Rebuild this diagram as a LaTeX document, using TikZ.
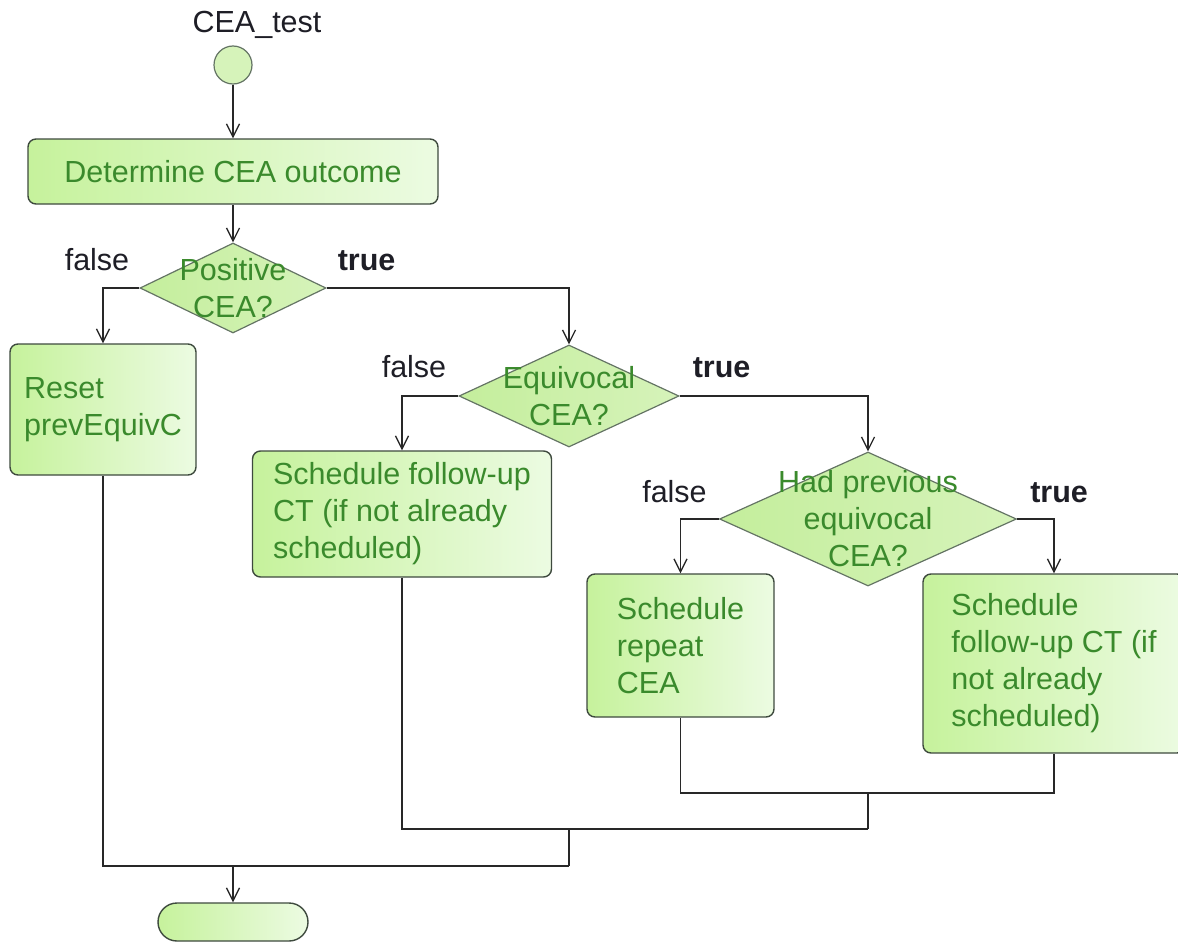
\documentclass[tikz,border=0pt]{standalone}
\usepackage{fontspec}
\setmainfont{Liberation Sans}
\usetikzlibrary{shapes.geometric,arrows.meta}

\definecolor{txtgreen}{RGB}{58,138,44}
\definecolor{fillL}{RGB}{198,242,156}
\definecolor{fillR}{RGB}{236,251,226}
\definecolor{diaL}{RGB}{196,238,156}
\definecolor{diaR}{RGB}{214,243,186}
\definecolor{boxedge}{RGB}{62,74,62}
\definecolor{diaedge}{RGB}{100,116,100}
\definecolor{wire}{RGB}{40,40,40}
\definecolor{lblcol}{RGB}{30,30,38}

\begin{document}
\begin{tikzpicture}[x=1pt,y=-1pt,
  every node/.style={font=\fontsize{30.5}{37}\selectfont},
  action/.style={draw=boxedge, line width=1.4pt, rounded corners=8pt,
    left color=fillL, right color=fillR, text=txtgreen, align=left, inner sep=0pt},
  decision/.style={diamond, draw=diaedge, line width=1.2pt,
    left color=diaL, right color=diaR, inner sep=0pt},
  dtext/.style={text=txtgreen, align=center, inner sep=0pt},
  branch/.style={text=lblcol, inner sep=0pt},
  flow/.style={draw=wire, line width=1.4pt,
    -{Straight Barb[length=13pt,width=13pt,line width=1.3pt]}},
  joinline/.style={draw=wire, line width=1.4pt},
]
\useasboundingbox (0,0) rectangle (1178,942);
\clip (0,0) rectangle (1178,942);

% start
\node[anchor=base, text=lblcol, inner sep=0pt] (title) at (257,33) {CEA\_test};
\node[circle, draw=diaedge, line width=1.2pt, fill=diaR, minimum size=38pt, inner sep=0pt] (start) at (233,65) {};

% actions and decisions
\node[action, minimum width=410pt, minimum height=65pt, align=center] (determine) at (233,171.5) {Determine CEA outcome};

\node[decision, minimum width=186pt, minimum height=90pt] (d1) at (233,288) {};
\node[dtext] (d1t) at (d1) {Positive\\CEA?};

\node[action, minimum width=186pt, minimum height=131pt] (reset) at (103,409.5) {Reset\\prevEquivC};

\node[decision, minimum width=220pt, minimum height=102pt] (d2) at (569,396) {};
\node[dtext] (d2t) at (d2) {Equivocal\\CEA?};

\node[action, minimum width=299pt, minimum height=126pt] (fup1) at (402,514) {Schedule follow-up\\CT (if not already\\scheduled)};

\node[decision, minimum width=297pt, minimum height=134pt] (d3) at (868,519) {};
\node[dtext] (d3t) at (d3) {Had previous\\equivocal\\CEA?};

\node[action, minimum width=187pt, minimum height=143pt] (rep) at (680.5,645.5) {Schedule\\repeat\\CEA};

\node[action, minimum width=262pt, minimum height=179pt] (fup2) at (1054,663.5) {Schedule\\follow-up CT (if\\not already\\scheduled)};

\node[draw=boxedge, line width=1.4pt, rounded corners=19pt, left color=fillL, right color=fillR,
  minimum width=150pt, minimum height=38pt, inner sep=0pt] (stop) at (233,922) {};

% branch labels
\node[branch, anchor=base east] (f1) at ([xshift=-10pt,yshift=18pt]d1.west) {false};
\node[branch, anchor=base west, font=\fontsize{30.5}{37}\selectfont\bfseries] (t1) at ([xshift=11pt,yshift=18pt]d1.east) {true};
\node[branch, anchor=base east] (f2) at ([xshift=-12pt,yshift=19pt]d2.west) {false};
\node[branch, anchor=base west, font=\fontsize{30.5}{37}\selectfont\bfseries] (t2) at ([xshift=13pt,yshift=19pt]d2.east) {true};
\node[branch, anchor=base east] (f3) at ([xshift=-12pt,yshift=17pt]d3.west) {false};
\node[branch, anchor=base west, font=\fontsize{30.5}{37}\selectfont\bfseries] (t3) at ([xshift=13pt,yshift=17pt]d3.east) {true};

% flow
\draw[flow] (start.south) -- (start.south |- determine.north);
\draw[flow] (determine.south) -- (determine.south |- d1.north);
\draw[flow] (d1.west) -| (reset.north);
\draw[flow] (d1.east) -| (d2.north);
\draw[flow] (d2.west) -| (fup1.north);
\draw[flow] (d2.east) -| (d3.north);
\draw[flow] (d3.west) -| (rep.north);
\draw[flow] (d3.east) -| (fup2.north);

% merges
\coordinate (m1) at (868,793);
\coordinate (m2) at (569,829);
\coordinate (m3) at (233,866);
\draw[joinline] (rep.south) |- (m1) -| (fup2.south);
\draw[joinline] (m1) -- (m1 |- m2);
\draw[joinline] (fup1.south) |- (m1 |- m2);
\draw[joinline] (m2) -- (m2 |- m3);
\draw[joinline] (reset.south) |- (m2 |- m3);
\draw[flow] (m3) -- (stop.north);
\end{tikzpicture}
\end{document}
